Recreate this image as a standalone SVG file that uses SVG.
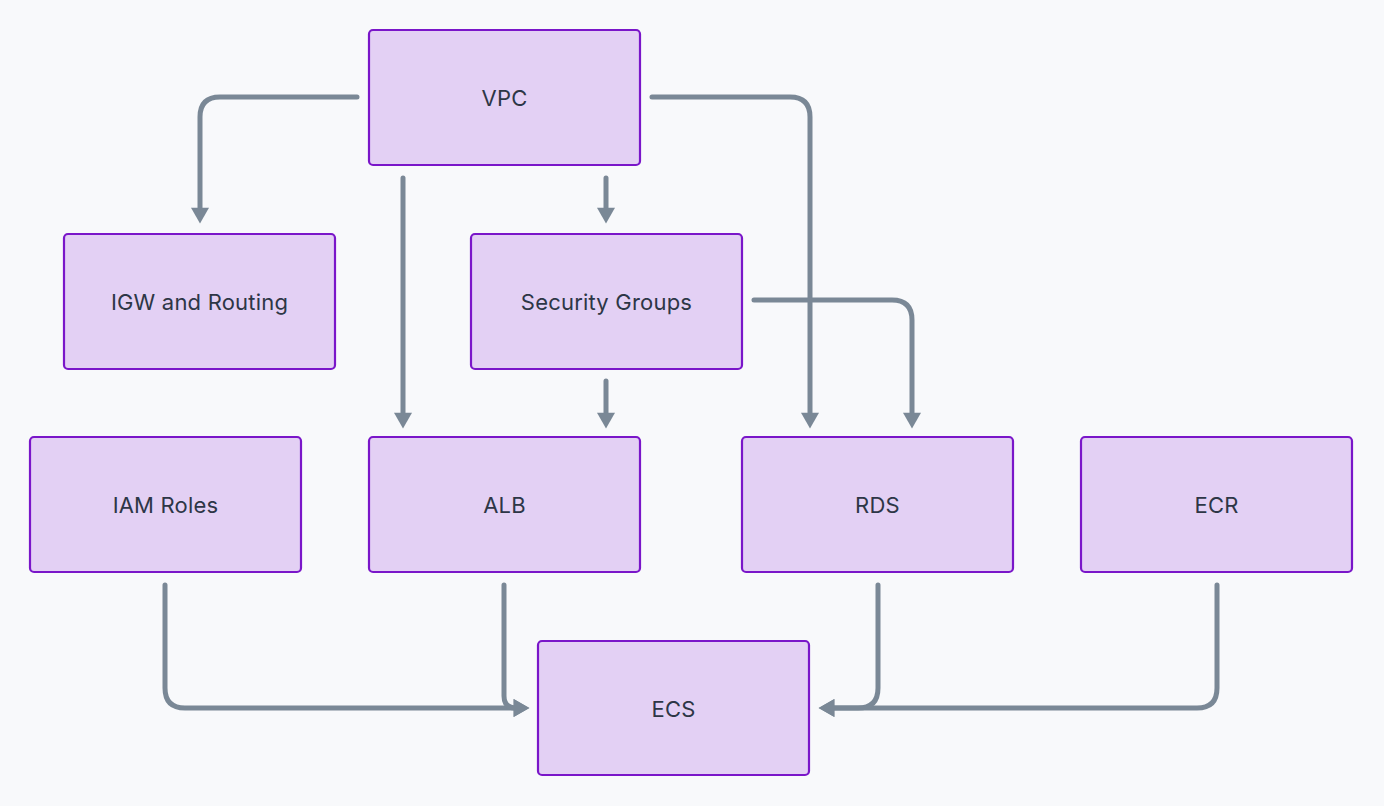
<svg xmlns="http://www.w3.org/2000/svg" width="1384" height="806" viewBox="0 0 1384 806">
<style>
.bg{fill:#f8f9fb}
.node rect{fill:#e3d0f4;stroke:#7a16c9;stroke-width:2.2}
.node text{font-family:Inter,"Noto Sans",sans-serif;font-size:22px;letter-spacing:0.2px;fill:#2d3646;text-anchor:middle}
.edge{fill:none;stroke:#7a8896;stroke-width:5;stroke-linecap:round;stroke-linejoin:round;marker-end:url(#arr)}
</style>
<defs>
<marker id="arr" markerUnits="userSpaceOnUse" markerWidth="18" markerHeight="18" viewBox="0 0 14 16" refX="3" refY="8" orient="auto">
<path d="M0,0 L14,8 L0,16 z" fill="#7a8896"/>
</marker>
</defs>
<rect class="bg" width="1384" height="806"/>
<g id="connectors">
<path class="edge" d="M357,97 H220 Q200,97 200,117 V211"/>
<path class="edge" d="M403,178 V416"/>
<path class="edge" d="M606,178 V211"/>
<path class="edge" d="M652,97 H790 Q810,97 810,117 V416"/>
<path class="edge" d="M606,381 V416"/>
<path class="edge" d="M754,300 H892 Q912,300 912,320 V416"/>
<path class="edge" d="M165,585 V688 Q165,708 185,708 H517"/>
<path class="edge" d="M504,585 V696 Q504,708 516,708 H517"/>
<path class="edge" d="M878,585 V688 Q878,708 858,708 H831"/>
<path class="edge" d="M1217,585 V688 Q1217,708 1197,708 H831"/>
</g>
<g id="vpc" class="node"><rect x="369" y="30" width="271" height="135" rx="4"/><text x="504.5" y="106">VPC</text></g>
<g id="igw" class="node"><rect x="64" y="234" width="271" height="135" rx="4"/><text x="199.5" y="309.5">IGW and Routing</text></g>
<g id="sg" class="node"><rect x="471" y="234" width="271" height="135" rx="4"/><text x="606.5" y="309.5">Security Groups</text></g>
<g id="iam" class="node"><rect x="30" y="437" width="271" height="135" rx="4"/><text x="165.5" y="513">IAM Roles</text></g>
<g id="alb" class="node"><rect x="369" y="437" width="271" height="135" rx="4"/><text x="504.5" y="513">ALB</text></g>
<g id="rds" class="node"><rect x="742" y="437" width="271" height="135" rx="4"/><text x="877.5" y="513">RDS</text></g>
<g id="ecr" class="node"><rect x="1081" y="437" width="271" height="135" rx="4"/><text x="1216.5" y="513">ECR</text></g>
<g id="ecs" class="node"><rect x="538" y="641" width="271" height="134" rx="4"/><text x="673.5" y="716.5">ECS</text></g>
</svg>
